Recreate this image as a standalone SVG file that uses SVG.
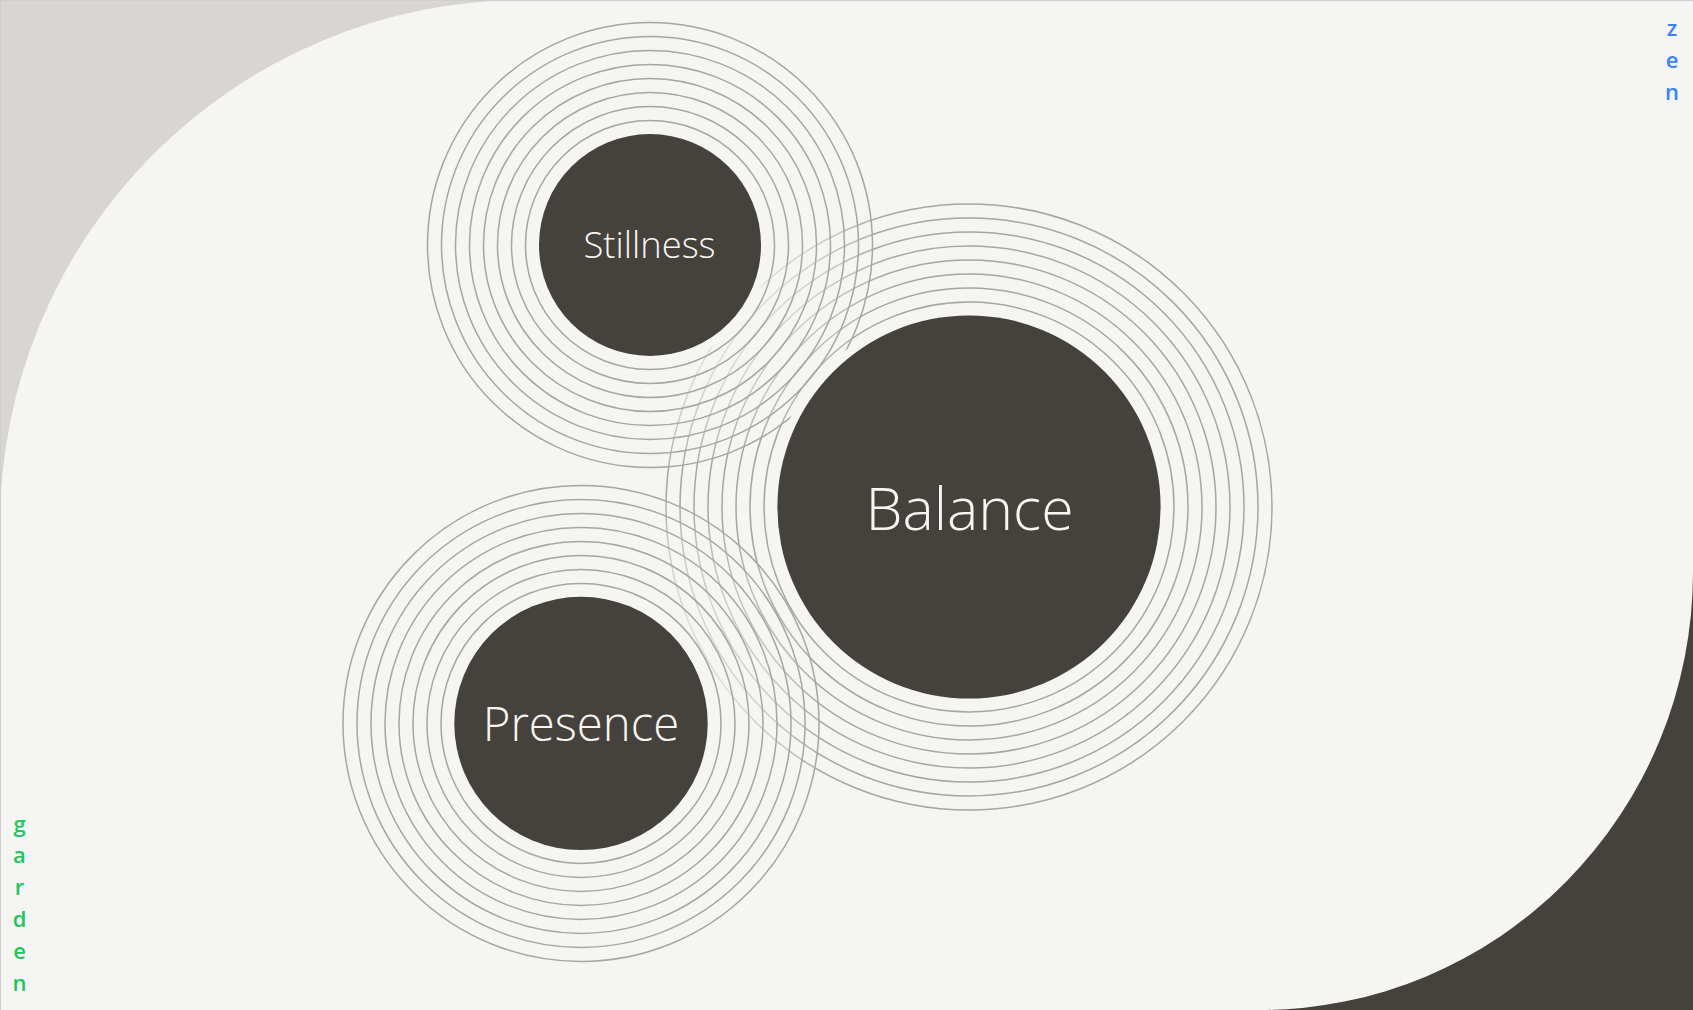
<svg xmlns="http://www.w3.org/2000/svg" width="1693" height="1010" viewBox="0 0 1693 1010">
<style>
.ring{fill:#f5f5f3;fill-opacity:0.15;stroke:#a9a5a1;stroke-width:1.5}
.core{fill:#45413c;stroke:#f5f5f3;stroke-width:16;paint-order:stroke}
.label{font-family:"Open Sans","Noto Sans","DejaVu Sans",sans-serif;font-weight:300;fill:#f7f6f2;text-anchor:middle}
.side{font-family:"Open Sans","Noto Sans","DejaVu Sans",sans-serif;font-weight:600;font-size:22px;text-anchor:middle}
</style>
<g id="background">
<rect x="0" y="0" width="1693" height="1010" fill="#d8d5d2"/>
<rect x="1000" y="500" width="693" height="510" fill="#45413c"/>
<path d="M525,0 H1693 V572 A433,438 0 0 1 1260,1010 H0 V525 A525,525 0 0 1 525,0 Z" fill="#f5f5f3"/>
<path d="M0,0.5 H1693 M0.5,0 V1010" stroke="#cfcfcf" stroke-width="1" fill="none"/>
</g>
<g id="connectors"></g>
<g id="balance-rings">
<circle class="ring" cx="969" cy="507" r="303"/>
<circle class="ring" cx="969" cy="507" r="289"/>
<circle class="ring" cx="969" cy="507" r="275"/>
<circle class="ring" cx="969" cy="507" r="261"/>
<circle class="ring" cx="969" cy="507" r="247"/>
<circle class="ring" cx="969" cy="507" r="233"/>
<circle class="ring" cx="969" cy="507" r="219"/>
<circle class="ring" cx="969" cy="507" r="205"/>
</g>
<g id="stillness-rings">
<circle class="ring" cx="650" cy="245" r="222.5"/>
<circle class="ring" cx="650" cy="245" r="208.5"/>
<circle class="ring" cx="650" cy="245" r="194.5"/>
<circle class="ring" cx="650" cy="245" r="180.5"/>
<circle class="ring" cx="650" cy="245" r="166.5"/>
<circle class="ring" cx="650" cy="245" r="152.5"/>
<circle class="ring" cx="650" cy="245" r="138.5"/>
<circle class="ring" cx="650" cy="245" r="124.5"/>
</g>
<g id="presence-rings">
<circle class="ring" cx="581" cy="723.4" r="238"/>
<circle class="ring" cx="581" cy="723.4" r="224"/>
<circle class="ring" cx="581" cy="723.4" r="210"/>
<circle class="ring" cx="581" cy="723.4" r="196"/>
<circle class="ring" cx="581" cy="723.4" r="182"/>
<circle class="ring" cx="581" cy="723.4" r="168"/>
<circle class="ring" cx="581" cy="723.4" r="154"/>
<circle class="ring" cx="581" cy="723.4" r="140"/>
</g>
<g id="node-balance">
<circle class="core" cx="969" cy="507" r="191.6"/>
<text class="label" x="969.5" y="529.5" font-size="59">Balance</text>
</g>
<g id="node-stillness">
<circle class="core" cx="650" cy="245" r="111"/>
<text class="label" x="649.5" y="257.5" font-size="36.4">Stillness</text>
</g>
<g id="node-presence">
<circle class="core" cx="581" cy="723.4" r="126.7"/>
<text class="label" x="581" y="741" font-size="47.3">Presence</text>
</g>
<g id="label-zen" class="side" fill="#3b82f6">
<text x="1672" y="36">z</text>
<text x="1672" y="68">e</text>
<text x="1672" y="100">n</text>
</g>
<g id="label-garden" class="side" fill="#22c55e">
<text x="19.5" y="831.5">g</text>
<text x="19.5" y="863.4">a</text>
<text x="19.5" y="895.3">r</text>
<text x="19.5" y="927.2">d</text>
<text x="19.5" y="959.1">e</text>
<text x="19.5" y="991">n</text>
</g>
</svg>
